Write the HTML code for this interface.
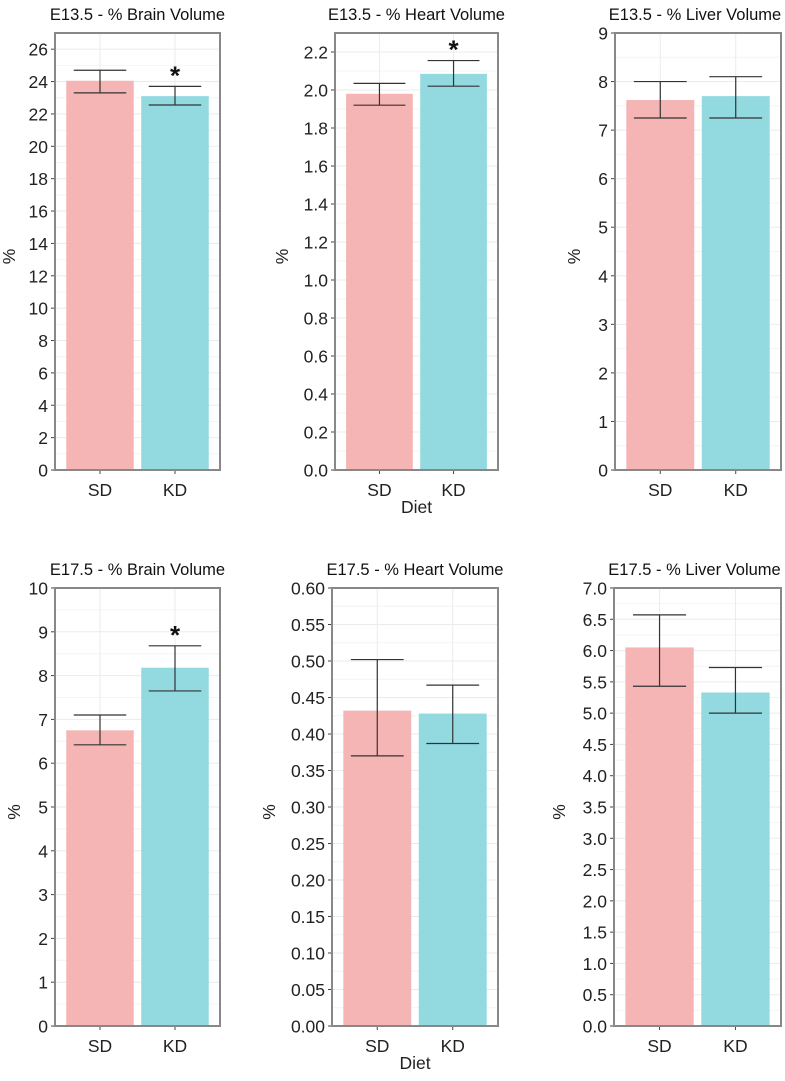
<!DOCTYPE html>
<html><head><meta charset="utf-8"><style>
html,body{margin:0;padding:0;background:#fff;}
svg{display:block;font-family:"Liberation Sans",Arial,sans-serif;}
</style></head><body>
<svg id="fig" width="785" height="1081" viewBox="0 0 785 1081" xmlns="http://www.w3.org/2000/svg"></svg>
<script>
const categories = ["SD","KD"];
const titles = ["E13.5 - % Brain Volume","E13.5 - % Heart Volume","E13.5 - % Liver Volume","E17.5 - % Brain Volume","E17.5 - % Heart Volume","E17.5 - % Liver Volume"];
const meanSD = [24.05, 1.98, 7.62, 6.75, 0.432, 6.05];
const meanKD = [23.1, 2.085, 7.7, 8.18, 0.428, 5.33];
const lowSD = [23.3, 1.92, 7.25, 6.42, 0.37, 5.43];
const highSD = [24.7, 2.035, 8.0, 7.1, 0.502, 6.57];
const lowKD = [22.55, 2.02, 7.25, 7.65, 0.387, 5.0];
const highKD = [23.7, 2.155, 8.1, 8.68, 0.467, 5.73];
const yMax = [27, 2.3, 9, 10, 0.6, 7];
const tickStep = [2, 0.2, 1, 1, 0.05, 0.5];
const tickDec = [0, 1, 0, 0, 2, 1];
const sigKD = [true, true, false, true, false, false];

const NS = "http://www.w3.org/2000/svg";
const svg = document.getElementById('fig');
function mk(tag, attrs, parent){const e=document.createElementNS(NS,tag);for(const k in attrs)e.setAttribute(k,attrs[k]);(parent||svg).appendChild(e);return e;}

const boxes = [
 {x:55,y:33,w:165,h:437,yl:10},{x:335,y:33,w:163,h:437,yl:283},{x:615,y:33,w:166,h:437,yl:575},
 {x:55,y:588,w:165,h:438,yl:15},{x:332,y:588,w:166,h:438,yl:270},{x:614,y:588,w:167,h:438,yl:560}
];
const FS = 17.5;

boxes.forEach((b,i)=>{
  const g = mk('g',{});
  
  
  const y = v => b.y + b.h - v / yMax[i] * b.h;
  const x = c => b.x + (c + 1 - 0.4) / 2.2 * b.w;
  const bw = 0.9 / 2.2 * b.w, cw = 0.7 / 2.2 * b.w;
  const t = mk('text',{x:b.x+b.w/2 - (i%3===2?3:0),y:b.y-13,'text-anchor':'middle','font-size':16.5,fill:'#111'},g);
  t.textContent = titles[i];
  
  
  const n = Math.floor(yMax[i]/tickStep[i] + 1e-6);
  for(let k=0;k<=n;k++){
    const v=k*tickStep[i];
    mk('line',{x1:b.x,x2:b.x+b.w,y1:y(v),y2:y(v),stroke:'#ebebeb','stroke-width':1},g);
    if(v+tickStep[i]/2 < yMax[i]) mk('line',{x1:b.x,x2:b.x+b.w,y1:y(v+tickStep[i]/2),y2:y(v+tickStep[i]/2),stroke:'#f4f4f4','stroke-width':1},g);
    mk('line',{x1:b.x-4,x2:b.x,y1:y(v),y2:y(v),stroke:'#444','stroke-width':1},g);
    const tl = mk('text',{x:b.x-7,y:y(v)+6.5,'text-anchor':'end','font-size':FS,fill:'#222'},g);
    tl.textContent = v.toFixed(tickDec[i]);
    
    
  }
  categories.forEach((c,j)=>mk('line',{x1:x(j),x2:x(j),y1:b.y,y2:b.y+b.h,stroke:'#ebebeb','stroke-width':1},g));
  const means=[meanSD[i],meanKD[i]], lows=[lowSD[i],lowKD[i]], highs=[highSD[i],highKD[i]], cols=['#f4b5b4','#92d9e0'];
  categories.forEach((c,j)=>{
    const r = mk('rect',{x:x(j)-bw/2,y:y(means[j]),width:bw,height:y(0)-y(means[j]),fill:cols[j]},g);
    
    
    const eb = mk('path',{d:`M${x(j)-cw/2},${y(highs[j])}H${x(j)+cw/2}M${x(j)},${y(highs[j])}V${y(lows[j])}M${x(j)-cw/2},${y(lows[j])}H${x(j)+cw/2}`,stroke:'#333','stroke-width':1.2,fill:'none'},g);
    
    
    mk('line',{x1:x(j),x2:x(j),y1:b.y+b.h,y2:b.y+b.h+4,stroke:'#444','stroke-width':1},g);
    const xl = mk('text',{x:x(j),y:b.y+b.h+26,'text-anchor':'middle','font-size':FS,fill:'#222'},g);
    xl.textContent = c;
    
    
  });
  if(sigKD[i]){
    const s = mk('text',{x:x(1),y:y(highKD[i])-2,'text-anchor':'middle','font-size':26,'font-weight':'bold',fill:'#111'},g);
    s.textContent='*';
    
    
  }
  mk('rect',{x:b.x,y:b.y,width:b.w,height:b.h,fill:'none',stroke:'#888','stroke-width':2},g);
  const yt = mk('text',{x:b.yl,y:b.y+b.h/2,'text-anchor':'middle','font-size':FS,fill:'#222',transform:`rotate(-90 ${b.yl+5} ${b.y+b.h/2})`},g);
  yt.textContent='%';
  
  
  if(i===1||i===4){
    const d = mk('text',{x:b.x+b.w/2,y:b.y+b.h+43,'text-anchor':'middle','font-size':FS,fill:'#222'},g);
    d.textContent='Diet';
    
    
  }
});
</script>
</body></html>
